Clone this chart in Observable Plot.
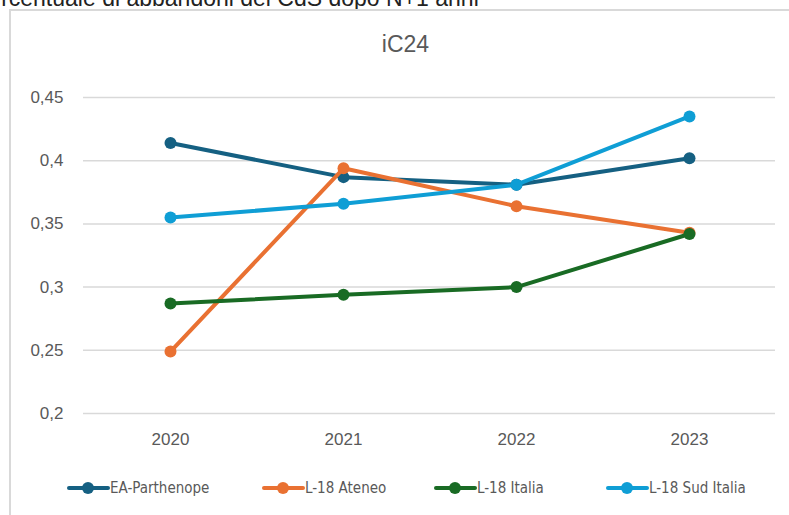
<!DOCTYPE html>
<html>
<head>
<meta charset="utf-8">
<script src="https://cdn.jsdelivr.net/npm/d3@7"></script>
<script src="https://cdn.jsdelivr.net/npm/@observablehq/plot@0.6"></script>
<style>
  html, body { margin: 0; padding: 0; background: #fff; overflow: hidden; }
  body { width: 789px; height: 515px; position: relative; font-family: "Liberation Sans", Arial, sans-serif; }
  #top { position: absolute; top: -13px; left: -27px; font-size: 23px; line-height: 22px; color: #222; white-space: nowrap; }
  #frame { position: absolute; left: 9px; top: 9px; width: 800px; height: 520px; border: 2px solid #d9d9d9; box-sizing: border-box; background: #fff; }
  #title { position: absolute; top: 31px; left: 0; width: 811px; text-align: center; font-size: 23px; color: #595959; }
  #chart { position: absolute; left: 0; top: 0; }
  #legend { position: absolute; top: 478px; left: 0; width: 789px; font-family: "Liberation Sans Narrow", "DejaVu Sans Condensed", sans-serif; font-size: 15px; color: #595959; }
  .item { position: absolute; display: flex; align-items: center; white-space: nowrap; }
</style>
</head>
<body>
<div id="top">Percentuale di abbandoni del CdS dopo N+1 anni</div>
<div id="frame"></div>
<div id="title">iC24</div>
<div id="chart"></div>
<div id="legend"></div>
<script>
const years = ["2020", "2021", "2022", "2023"];
const seriesNames = ["EA-Parthenope", "L-18 Ateneo", "L-18 Italia", "L-18 Sud Italia"];
const seriesColors = ["#156082", "#E97132", "#196B24", "#0F9ED5"];
const eaParthenope = [0.414, 0.387, 0.381, 0.402];
const l18Ateneo = [0.249, 0.394, 0.364, 0.343];
const l18Italia = [0.287, 0.294, 0.300, 0.342];
const l18SudItalia = [0.355, 0.366, 0.381, 0.435];
const yTicks = [0.2, 0.25, 0.3, 0.35, 0.4, 0.45];

const allSeries = [eaParthenope, l18Ateneo, l18Italia, l18SudItalia];
const data = [];
allSeries.forEach((vals, si) => {
  vals.forEach((v, i) => data.push({ series: seriesNames[si], year: years[i], value: v }));
});

const fmt = d => String(d).replace(".", ",");

const marks = [
  Plot.gridY(yTicks, { stroke: "#d9d9d9", strokeOpacity: 1, strokeWidth: 1.5 }),
  Plot.axisY(yTicks, { tickSize: 0, tickPadding: 20, tickFormat: fmt, fontSize: 17, fill: "#595959", label: null }),
  Plot.axisX({ tickSize: 0, tickPadding: 19, fontSize: 17, fill: "#595959", label: null })
];
seriesNames.forEach((name, si) => {
  const d = data.filter(r => r.series === name);
  marks.push(Plot.line(d, { x: "year", y: "value", stroke: seriesColors[si], strokeWidth: 4 }));
  marks.push(Plot.dot(d, { x: "year", y: "value", fill: seriesColors[si], r: 6 }));
});

const chart = Plot.plot({
  width: 789,
  height: 460,
  marginLeft: 83,
  marginRight: 14,
  marginTop: 97,
  marginBottom: 47,
  style: { background: "transparent", fontFamily: "'Liberation Sans', Arial, sans-serif" },
  x: { type: "point", domain: years, padding: 0.5, label: null },
  y: { domain: [0.2, 0.45], label: null },
  marks
});
document.getElementById("chart").appendChild(chart);

// legend
const legendX = [67, 262, 434, 606];
const legend = document.getElementById("legend");
seriesNames.forEach((name, si) => {
  const item = document.createElement("div");
  item.className = "item";
  item.style.left = legendX[si] + "px";
  const c = seriesColors[si];
  item.innerHTML = `<svg width="43" height="20"><line x1="2" y1="10" x2="41" y2="10" stroke="${c}" stroke-width="4" stroke-linecap="round"/><circle cx="21" cy="10" r="6" fill="${c}"/></svg><span>${name}</span>`;
  legend.appendChild(item);
});
</script>
</body>
</html>
